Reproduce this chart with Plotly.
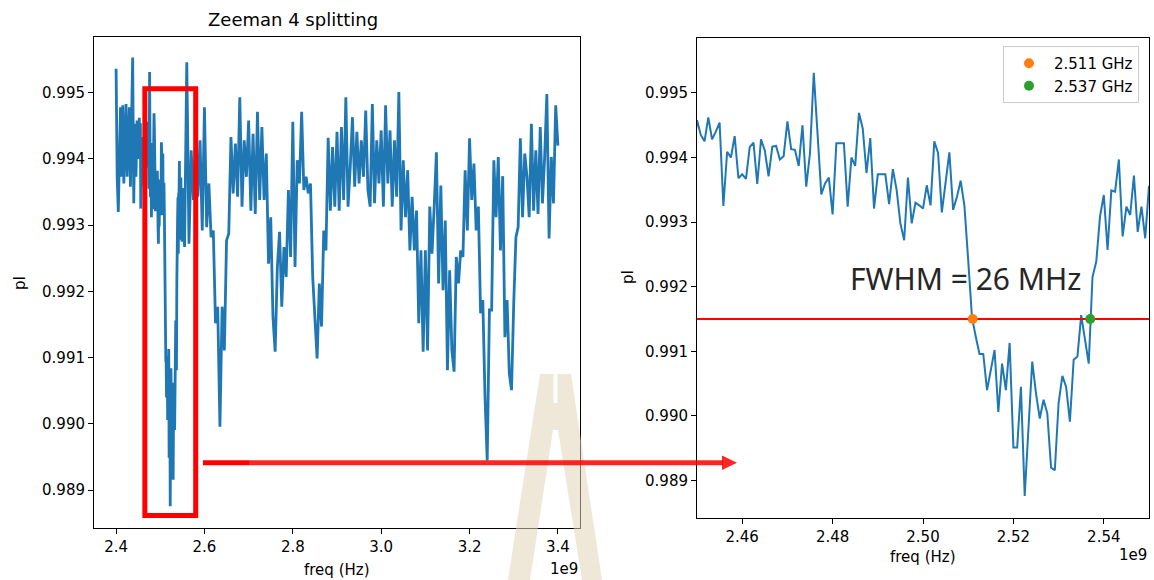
import numpy as np
import plotly.graph_objects as go

W, H = 1154, 580

# ---- measured photoluminescence intensity (pI) versus microwave frequency ----
# coarse sweep 2.400 - 2.4475 GHz, 2.5 MHz steps
pl_low = [0.99536, 0.99370, 0.99320, 0.99413, 0.99478, 0.99373, 0.99481, 0.99363, 0.99433, 0.99483,
          0.99373, 0.99423, 0.99478, 0.99358, 0.99463, 0.99553, 0.99333, 0.99453, 0.99373, 0.99458]

# fine sweep across the first resonance, 2.44917 - 2.55 GHz, 1/1.2 MHz steps
pl_fine = [0.99400,
           0.99458, 0.99435, 0.99425, 0.99462, 0.99428, 0.99440, 0.99454, 0.99325, 0.99409, 0.99400,
           0.99433, 0.99368, 0.99374, 0.99367, 0.99416, 0.99423, 0.99359, 0.99428, 0.99411, 0.99371,
           0.99417, 0.99418, 0.99397, 0.99402, 0.99456, 0.99413, 0.99412, 0.99387, 0.99450, 0.99355,
           0.99407, 0.99531, 0.99438, 0.99343, 0.99360, 0.99369, 0.99312, 0.99422, 0.99422, 0.99422,
           0.99324, 0.99400, 0.99387, 0.99469, 0.99445, 0.99376, 0.99430, 0.99321, 0.99374, 0.99374,
           0.99374, 0.99328, 0.99382, 0.99350, 0.99298, 0.99272, 0.99369, 0.99298, 0.99330, 0.99326,
           0.99321, 0.99357, 0.99326, 0.99425, 0.99407, 0.99315, 0.99360, 0.99408, 0.99319, 0.99339,
           0.99364, 0.99325, 0.99241, 0.99153, 0.99123, 0.99096, 0.99096, 0.99040, 0.99071, 0.99102,
           0.99006, 0.99081, 0.99040, 0.99113, 0.98951, 0.98951, 0.99045, 0.98876, 0.98981, 0.99084,
           0.99035, 0.98996, 0.99025, 0.99004, 0.98920, 0.98916, 0.99020, 0.99062, 0.99045, 0.98991,
           0.99087, 0.99092, 0.99156, 0.99118, 0.99081, 0.99215, 0.99239, 0.99309, 0.99342, 0.99257,
           0.99349, 0.99347, 0.99397, 0.99278, 0.99324, 0.99311, 0.99372, 0.99285, 0.99324, 0.99275,
           0.99356]

# coarse sweep 2.555 - 3.400 GHz, 5 MHz steps
pl_high = [0.99267, 0.99546, 0.99272, 0.99413, 0.99338, 0.99428, 0.99343, 0.99428, 0.99292, 0.99478,
           0.99297, 0.99363, 0.99282, 0.99292, 0.99152, 0.99177, 0.98996, 0.99177, 0.99111, 0.99277,
           0.99287, 0.99433, 0.99348, 0.99423, 0.99343, 0.99493, 0.99328, 0.99428, 0.99373, 0.99458,
           0.99322, 0.99438, 0.99317, 0.99471, 0.99338, 0.99448, 0.99338, 0.99408, 0.99242, 0.99312,
           0.99162, 0.99109, 0.99237, 0.99290, 0.99177, 0.99267, 0.99222, 0.99353, 0.99252, 0.99456,
           0.99237, 0.99398, 0.99363, 0.99471, 0.99353, 0.99373, 0.99348, 0.99363, 0.99222, 0.99167,
           0.99099, 0.99212, 0.99147, 0.99292, 0.99262, 0.99432, 0.99322, 0.99418, 0.99328, 0.99441,
           0.99322, 0.99448, 0.99338, 0.99493, 0.99328, 0.99388, 0.99463, 0.99358, 0.99441, 0.99363,
           0.99428, 0.99373, 0.99473, 0.99353, 0.99328, 0.99483, 0.99333, 0.99428, 0.99363, 0.99443,
           0.99328, 0.99481, 0.99363, 0.99443, 0.99328, 0.99428, 0.99343, 0.99501, 0.99292, 0.99398,
           0.99312, 0.99383, 0.99262, 0.99343, 0.99262, 0.99322, 0.99152, 0.99262, 0.99109, 0.99262,
           0.99111, 0.99328, 0.99257, 0.99328, 0.99410, 0.99212, 0.99360, 0.99202, 0.99307, 0.99081,
           0.99232, 0.99111, 0.99079, 0.99252, 0.99212, 0.99262, 0.99252, 0.99383, 0.99292, 0.99431,
           0.99338, 0.99393, 0.99292, 0.99328, 0.99167, 0.99187, 0.99041, 0.98945, 0.99172, 0.99172,
           0.99398, 0.99312, 0.99403, 0.99262, 0.99374, 0.99131, 0.99187, 0.99076, 0.99051, 0.99182,
           0.99282, 0.99297, 0.99431, 0.99312, 0.99408, 0.99373, 0.99312, 0.99453, 0.99322, 0.99413,
           0.99317, 0.99448, 0.99333, 0.99403, 0.99498, 0.99280, 0.99403, 0.99333, 0.99481, 0.99420]

# half-maximum level and the two crossing frequencies (GHz)
half_max = 0.9915
fwhm_edges_ghz = [2.511, 2.537]

x_ticks_main = [2.4, 2.6, 2.8, 3.0, 3.2, 3.4]
x_ticks_zoom = [2.46, 2.48, 2.50, 2.52, 2.54]
y_ticks = [0.989, 0.990, 0.991, 0.992, 0.993, 0.994, 0.995]

# frequency grids of the three sweep segments (Hz)
f_low = 2.400e9 + 2.5e6 * np.arange(len(pl_low))
f_fine = 2.45e9 + (1e9 / 1200) * np.arange(-1, len(pl_fine) - 1)
f_high = 2.555e9 + 5e6 * np.arange(len(pl_high))
freq = np.concatenate([f_low, f_fine, f_high])
pl = np.concatenate([pl_low, pl_fine, pl_high])

BLUE = "#1f77b4"
FONT = "DejaVu Sans"


def px(x):
    return x / W


def py(y):
    return 1 - y / H


fig = go.Figure()

# full sweep (left panel)
fig.add_trace(go.Scatter(x=freq, y=pl, mode="lines", line=dict(color=BLUE, width=2.8),
                         xaxis="x", yaxis="y", showlegend=False, hoverinfo="skip"))
# zoomed view of the first dip (right panel)
fig.add_trace(go.Scatter(x=freq, y=pl, mode="lines", line=dict(color=BLUE, width=2.0),
                         xaxis="x2", yaxis="y2", showlegend=False, hoverinfo="skip"))
# half-maximum level
fig.add_trace(go.Scatter(x=[freq.min(), freq.max()], y=[half_max, half_max], mode="lines",
                         line=dict(color="#ff0000", width=2), xaxis="x2", yaxis="y2",
                         showlegend=False, hoverinfo="skip"))
# the two half-maximum crossings
for f_ghz, col in zip(fwhm_edges_ghz, ["#ff7f0e", "#2ca02c"]):
    fig.add_trace(go.Scatter(x=[f_ghz * 1e9], y=[half_max], mode="markers",
                             marker=dict(color=col, size=10), name=f"{f_ghz:.3f} GHz",
                             xaxis="x2", yaxis="y2"))

fwhm_mhz = round((fwhm_edges_ghz[1] - fwhm_edges_ghz[0]) * 1000)

axis_common = dict(showgrid=False, zeroline=False, showline=True, mirror=True,
                   linecolor="black", linewidth=1, ticks="outside", ticklen=5,
                   tickwidth=1, tickcolor="black",
                   tickfont=dict(family=FONT, size=15, color="black"))

fig.update_layout(
    width=W, height=H,
    margin=dict(l=0, r=0, t=0, b=0),
    paper_bgcolor="white", plot_bgcolor="white",
    font=dict(family=FONT, color="black"),
    xaxis=dict(domain=[px(94), px(580)], range=[2.35e9, 3.45e9], anchor="y",
               tickvals=[t * 1e9 for t in x_ticks_main],
               ticktext=[f"{t:.1f}" for t in x_ticks_main], **axis_common),
    yaxis=dict(domain=[py(528), py(37)], range=[0.98843, 0.99584], anchor="x",
               tickvals=y_ticks, ticktext=[f"{t:.3f}" for t in y_ticks], **axis_common),
    xaxis2=dict(domain=[px(697), px(1149)], range=[2.45e9, 2.55e9], anchor="y2",
                tickvals=[t * 1e9 for t in x_ticks_zoom],
                ticktext=[f"{t:.2f}" for t in x_ticks_zoom], **axis_common),
    yaxis2=dict(domain=[py(518), py(38)], range=[0.98842, 0.99585], anchor="x2",
                tickvals=y_ticks, ticktext=[f"{t:.3f}" for t in y_ticks], **axis_common),
    legend=dict(x=px(1003), y=py(46), xanchor="left", yanchor="top",
                bgcolor="rgba(255,255,255,0.8)", bordercolor="#cccccc", borderwidth=1,
                font=dict(family=FONT, size=15, color="black"),
                itemwidth=40, tracegroupgap=0),
)

ann = [
    dict(text="Zeeman 4 splitting", x=px(293), y=py(20), size=18),
    dict(text="freq (Hz)", x=px(337), y=py(570), size=15),
    dict(text="1e9", x=px(580), y=py(569), size=15, xanchor="right"),
    dict(text="pI", x=px(20), y=py(283), size=15, textangle=-90),
    dict(text="freq (Hz)", x=px(923), y=py(557), size=15),
    dict(text="1e9", x=px(1149), y=py(555), size=15, xanchor="right"),
    dict(text="pI", x=px(628), y=py(277), size=15, textangle=-90),
]
for a in ann:
    fig.add_annotation(text=a["text"], x=a["x"], y=a["y"], xref="paper", yref="paper",
                       showarrow=False, xanchor=a.get("xanchor", "center"), yanchor="middle",
                       textangle=a.get("textangle", 0),
                       font=dict(family=FONT, size=a["size"], color="black"))

fig.add_annotation(text=f"FWHM = {fwhm_mhz} MHz", x=px(965.5), y=py(278), xref="paper",
                   yref="paper", showarrow=False, xanchor="center", yanchor="middle",
                   font=dict(family="Noto Sans", size=30, color="#262626"))

# selection box marking the zoomed region on the full sweep
fig.add_shape(type="rect", xref="x", yref="y", x0=2.4651e9, x1=2.5802e9, y0=0.98862, y1=0.99506,
              line=dict(color="#ff0000", width=5), fillcolor="rgba(0,0,0,0)", layer="above")


def path(points):
    return "M" + " L".join(f"{px(x):.5f},{py(y):.5f}" for x, y in points) + " Z"


# faint tower emblem near the bottom centre
emblem = (path([(540, 374), (571, 374), (602, 580), (508, 580)]) + " "
          + path([(553.5, 374), (557.5, 374), (557.5, 403), (553.5, 403)]) + " "
          + path([(553, 430), (558, 430), (582, 580), (530, 580)]))
fig.add_shape(type="path", xref="paper", yref="paper", path=emblem, fillrule="evenodd",
              fillcolor="#e2d3b8", opacity=0.55, line=dict(width=0), layer="above")

# arrow from the selection box to the zoomed panel
fig.add_shape(type="line", xref="paper", yref="paper", x0=px(203), x1=px(249), y0=py(462.7),
              y1=py(462.7), line=dict(color="#ff0000", width=5), layer="above")
fig.add_shape(type="line", xref="paper", yref="paper", x0=px(249), x1=px(723), y0=py(462.7),
              y1=py(462.7), line=dict(color="#ff0000", width=5), opacity=0.85, layer="above")
fig.add_shape(type="path", xref="paper", yref="paper",
              path=path([(722, 455.5), (737, 462.7), (722, 470)]),
              fillcolor="#ff0000", opacity=0.85, line=dict(width=0), layer="above")

fig.write_html("out.html")
